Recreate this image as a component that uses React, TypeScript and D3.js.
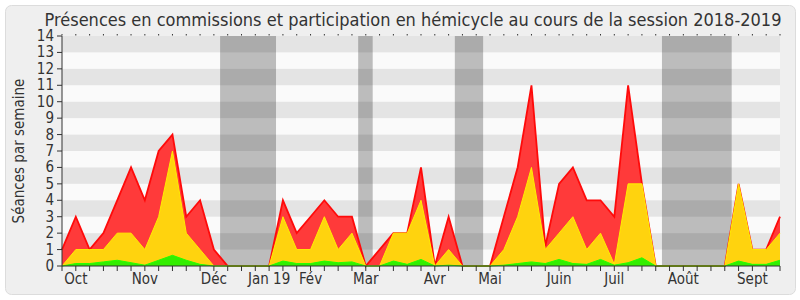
import React from "react";
import * as d3 from "d3";

const commissions = [1, 3, 1, 2, 4, 6, 4, 7, 8, 3, 4, 1, 0, 0, 0, 0, 4, 2, 3, 4, 3, 3, 0, 1, 2, 2, 6, 0, 3, 0, 0, 0, 3, 6, 11, 1.2, 5, 6, 4, 4, 3, 11, 5, 0, 0, 0, 0, 0, 0, 5, 1, 1, 3];
const hemicycle = [0, 1, 1, 1, 2, 2, 1, 3, 7, 2, 1, 0, 0, 0, 0, 0, 3, 1, 1, 3, 1, 2, 0, 0, 2, 2, 4, 0, 1, 0, 0, 0, 1, 3, 6, 1, 2, 3, 1, 2, 0.1, 5, 5, 0, 0, 0, 0, 0, 0, 5, 1, 1, 2];
const interventions = [0, 0.15, 0.15, 0.25, 0.35, 0.2, 0.05, 0.35, 0.65, 0.35, 0.1, 0, 0, 0, 0, 0, 0.3, 0.15, 0.15, 0.3, 0.2, 0.25, 0, 0, 0.3, 0.1, 0.4, 0, 0.05, 0, 0, 0, 0.05, 0.15, 0.25, 0.15, 0.4, 0.15, 0.1, 0.4, 0.05, 0.2, 0.5, 0, 0, 0, 0, 0, 0, 0.3, 0.1, 0.1, 0.35];
const monthLabels = ["Oct", "Nov", "Déc", "Jan 19", "Fév", "Mar", "Avr", "Mai", "Juin", "Juil", "Août", "Sept"];
const monthWeeks = [1, 6, 11, 15, 18, 22, 27, 31, 36, 40, 45, 50];
const vacationStart = [11.45, 21.45, 28.45, 43.45];
const vacationEnd = [15.5, 22.5, 30.5, 48.5];
const yTicks = d3.range(0, 15);

const FONT = "'DejaVu Sans Condensed', 'DejaVu Sans', sans-serif";

export default function App() {
  const left = 62, right = 780, top = 36, bottom = 266;
  const n = commissions.length;
  const x = d3.scaleLinear().domain([0, n - 1]).range([left, right]);
  const y = d3.scaleLinear().domain([0, 14]).range([bottom, top]);
  const area = (vals: number[]) =>
    d3.area<number>().x((_, i) => x(i)).y0(y(0)).y1((d) => y(d))(vals) || "";
  const line = (vals: number[]) =>
    d3.line<number>().x((_, i) => x(i)).y((d) => y(d))(vals) || "";
  const weeks = d3.range(n);

  return (
    <svg width={800} height={300} style={{ position: "absolute", left: 0, top: 0 }} fontFamily={FONT}>
      <rect x={5.5} y={5.5} width={790} height={289} rx={6} fill="#efefef" stroke="#dcdcdc" />
      <text x={413} y={26} textAnchor="middle" fontSize={18} fill="#333">
        Présences en commissions et participation en hémicycle au cours de la session 2018-2019
      </text>
      <rect x={left} y={top} width={right - left} height={bottom - top} fill="#ffffff" />
      {vacationStart.map((s, i) => (
        <rect key={"v" + i} x={x(s)} y={top} width={x(vacationEnd[i]) - x(s)} height={bottom - top} fill="#c0c0c0" />
      ))}
      {yTicks.slice(0, 14).map((k) => (
        <rect key={"b" + k} x={left} y={y(k + 1)} width={right - left} height={y(k) - y(k + 1)}
          fill="#000" fillOpacity={k % 2 === 1 ? 0.105 : 0.02} />
      ))}
      <path d={area(commissions)} fill="#ff3a3a" />
      <path d={line(commissions)} fill="none" stroke="#ff0a0a" strokeWidth={1.8} />
      <path d={area(hemicycle)} fill="#ffd30e" />
      <path d={line(hemicycle)} fill="none" stroke="#ffee00" strokeWidth={1} />
      <path d={area(interventions)} fill="#33ee00" />
      <path d={line(interventions)} fill="none" stroke="#22ff00" strokeWidth={1} />
      <line x1={left} x2={left} y1={top} y2={bottom} stroke="#333" />
      <line x1={left} x2={right} y1={bottom} y2={bottom} stroke="#333" />
      {yTicks.map((t) => (
        <g key={"y" + t}>
          <line x1={left - 5} x2={left} y1={y(t)} y2={y(t)} stroke="#333" />
          <text x={54} y={y(t) + 5} textAnchor="end" fontSize={15} fill="#333">{t}</text>
        </g>
      ))}
      {weeks.map((w) => (
        <g key={"w" + w}>
          <line x1={x(w)} x2={x(w)} y1={bottom} y2={bottom + 5} stroke="#333" />
          <line x1={x(w)} x2={x(w)} y1={top - 2} y2={top - 0.5} stroke="#333" />
        </g>
      ))}
      {monthLabels.map((m, i) => (
        <text key={"m" + i} x={x(monthWeeks[i])} y={284} textAnchor="middle" fontSize={15} fill="#333">{m}</text>
      ))}
      <text transform={`translate(24,${(top + bottom) / 2}) rotate(-90)`} textAnchor="middle" fontSize={15} fill="#333">
        Séances par semaine
      </text>
    </svg>
  );
}
